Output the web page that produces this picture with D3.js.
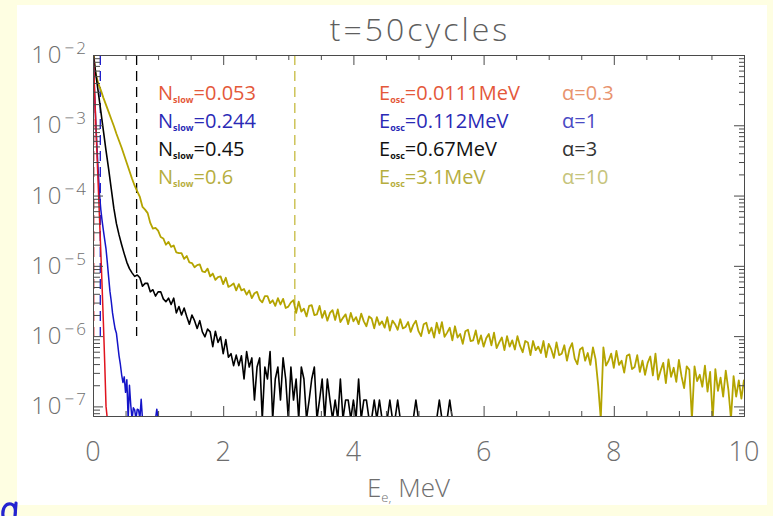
<!DOCTYPE html>
<html>
<head>
<meta charset="utf-8">
<script src="https://cdn.jsdelivr.net/npm/d3@7"></script>
<style>
  html, body { margin: 0; padding: 0; background: #fefee2; }
  svg { display: block; }
</style>
</head>
<body>
<svg id="chart" width="773" height="516"></svg>
<script>
// Energy bin widths (MeV) of each spectrum
const redStep = 0.02, blueStep = 0.02, blackStep = 0.04, oliveStep = 0.04;

// log10 of the electron spectrum per bin; null marks an empty bin
const redLog = [-1.90,-2.40,-2.90,-3.38,-3.85,-4.32,-4.80,-5.30,-5.82,-6.38,-7.00,null,null];

const blueLog = [-1.95,-2.45,-2.90,-3.30,-3.65,-3.98,-4.20,-4.36,-4.50,-4.63,
  -4.76,-4.95,-5.16,-5.36,-5.50,-5.67,-5.79,-5.90,-5.96,-6.12,
  -6.28,-6.40,-6.55,-6.66,-6.58,-6.80,-6.62,null,-6.70,-6.98,
  null,-7.02,-7.05,null,-7.04,-7.05,null,-6.90,null,null,
  null,null,null,null,null,null,null,null,null,-7.04,null];

const blackLog = [-1.95,-2.25,-2.52,-2.80,-3.08,-3.36,-3.62,-3.90,-4.18,-4.40,
  -4.56,-4.70,-4.83,-4.95,-5.04,-5.10,-5.15,-5.13,-5.17,-5.29,
  -5.25,-5.25,-5.37,-5.34,-5.43,-5.37,-5.37,-5.47,-5.51,-5.46,
  -5.55,-5.46,-5.67,-5.58,-5.70,-5.60,-5.72,-5.83,-5.70,-5.78,
  -5.89,-5.78,-5.94,-6.01,-5.90,-5.94,-6.15,-5.93,-6.09,-6.01,
  -6.25,-6.05,-6.30,-6.25,-6.42,-6.27,-6.42,-6.28,-6.61,-6.22,
  -6.44,-6.31,-6.91,-6.44,-6.31,null,-6.44,-6.61,-6.22,null,
  -6.61,-6.44,-6.91,-6.31,-6.61,null,-6.44,-6.91,-6.61,null,
  -6.44,-6.61,null,-6.91,-6.61,-6.44,null,-6.91,-6.61,null,
  -6.61,-6.91,null,-6.91,null,-6.61,null,-6.91,-6.91,null,
  -6.91,null,-6.61,null,-6.91,-6.91,null,null,-6.91,null,
  -6.91,null,null,null,-6.91,null,null,-6.91,null,null,
  null,null,null,null,-6.91,null,null,null,null,null,
  null,null,null,-6.91,null,null,null,-6.91,null,null,null];

const oliveLog = [-1.92,-2.26,-2.40,-2.50,-2.61,-2.71,-2.81,-2.91,-3.01,-3.12,
  -3.22,-3.32,-3.43,-3.54,-3.65,-3.76,-3.86,-3.94,-4.02,-4.16,
  -4.20,-4.25,-4.39,-4.47,-4.46,-4.50,-4.59,-4.61,-4.70,-4.66,
  -4.73,-4.71,-4.81,-4.82,-4.82,-4.90,-4.86,-4.95,-4.96,-5.02,
  -4.99,-4.98,-5.08,-5.09,-5.04,-5.15,-5.11,-5.20,-5.16,-5.15,
  -5.26,-5.17,-5.30,-5.28,-5.25,-5.35,-5.26,-5.35,-5.33,-5.41,
  -5.35,-5.46,-5.39,-5.37,-5.48,-5.52,-5.43,-5.43,-5.53,-5.49,
  -5.57,-5.46,-5.55,-5.47,-5.60,-5.58,-5.52,-5.49,-5.67,-5.51,
  -5.65,-5.61,-5.72,-5.57,-5.56,-5.70,-5.69,-5.57,-5.74,-5.64,
  -5.78,-5.67,-5.63,-5.77,-5.62,-5.80,-5.74,-5.69,-5.83,-5.67,
  -5.79,-5.73,-5.83,-5.68,-5.79,-5.86,-5.72,-5.75,-5.89,-5.73,
  -5.84,-5.79,-5.88,-5.73,-5.92,-5.78,-5.83,-5.91,-5.76,-5.89,
  -5.87,-5.80,-5.94,-5.84,-5.78,-5.93,-6.00,-5.83,-5.81,-5.96,
  -5.88,-6.02,-5.81,-5.96,-5.80,-6.01,-5.95,-5.88,-6.06,-5.86,
  -6.02,-5.97,-6.11,-5.93,-5.91,-6.07,-6.06,-5.92,-6.11,-5.99,
  -6.15,-6.03,-5.97,-6.13,-5.95,-6.17,-6.09,-6.02,-6.20,-6.00,
  -6.15,-6.06,-6.19,-6.00,-6.14,-6.23,-6.07,-6.09,-6.27,-6.07,
  -6.20,-6.15,-6.24,-6.07,-6.30,-6.11,-6.19,-6.31,-6.09,-6.27,
  -6.25,-6.13,-6.35,-6.18,-6.10,-6.32,-6.40,-6.19,-6.16,-6.35,
  -6.24,-6.41,-6.16,-6.33,-6.70,null,-6.16,-6.42,-6.35,-6.25,
  -6.45,-6.21,-6.41,-6.35,-6.52,-6.28,-6.26,-6.47,-6.44,-6.27,
  -6.51,-6.35,-6.55,-6.38,-6.29,-6.56,-6.25,-6.62,-6.49,-6.38,
  -6.67,-6.33,-6.58,-6.45,-6.65,-6.34,-6.57,-6.74,-6.43,-6.48,
  null,-6.43,-6.64,-6.55,-6.72,-6.42,-6.79,-6.51,null,-6.47,
  -6.78,-6.59,-6.86,-6.49,-6.76,null,-6.57,-6.86,-6.63,-6.89,-6.62];

// Oscillation energies (MeV), slow-electron fractions and a0 values per run
const eOsc = [0.0111, 0.112, 0.67, 3.1];
const nSlow = ["0.053", "0.244", "0.45", "0.6"];
const aVals = ["0.3", "1", "3", "10"];

// Axis ticks
const xMajor = [0, 2, 4, 6, 8, 10];
const xMinor = [0.5, 1, 1.5, 2.5, 3, 3.5, 4.5, 5, 5.5, 6.5, 7, 7.5, 8.5, 9, 9.5];
const yExps = [-2, -3, -4, -5, -6, -7];

const lineColors = ["#e0141e", "#1414c8", "#000000", "#b4a400"];
const textColors = ["#e4583a", "#2a2ab6", "#111111", "#b6ae3e"];
const aColors = ["#e8936e", "#4a4ac4", "#333333", "#c6c47c"];

const runs = [
  { log: redLog, step: redStep, w: 1.5 },
  { log: blueLog, step: blueStep, w: 1.5 },
  { log: blackLog, step: blackStep, w: 1.6 },
  { log: oliveLog, step: oliveStep, w: 1.8 }
];

const pLeft = 93, pRight = 744, pTop = 55, pBottom = 416;

const svg = d3.select("#chart");

// slide panel
svg.append("rect").attr("x", 17).attr("y", 5).attr("width", 750).attr("height", 500)
  .attr("fill", "#ffffff");

// blue flourish of the slide decoration in the lower-left corner
svg.append("path")
  .attr("d", "M3,516 C2,508 6,503 11,504 C15,505 16,510 15,516 M16,503 L15,516")
  .attr("fill", "none").attr("stroke", "#2424d0").attr("stroke-width", 3.2)
  .attr("stroke-linecap", "round");

const x = d3.scaleLinear().domain([0, 10]).range([pLeft, pRight]);
const y = d3.scaleLog().domain([7.3e-8, 1e-2]).range([pBottom, pTop]);

svg.append("defs").append("clipPath").attr("id", "plotClip")
  .append("rect").attr("x", pLeft).attr("y", pTop)
  .attr("width", pRight - pLeft).attr("height", pBottom - pTop);

const plot = svg.append("g").attr("clip-path", "url(#plotClip)");

// Dashed markers at each oscillation energy, from 1e-2 down to 1e-6
eOsc.forEach((e, k) => {
  plot.append("line")
    .attr("x1", x(e)).attr("x2", x(e))
    .attr("y1", y(1e-2)).attr("y2", y(1e-6))
    .attr("stroke", lineColors[k]).attr("stroke-width", 1.3)
    .attr("stroke-dasharray", "10,6")
    .attr("opacity", k === 3 ? 0.75 : 1);
});

// Spectra
const line = d3.line()
  .x(d => x(d.e))
  .y(d => d.v == null ? pBottom + 3 : y(Math.pow(10, d.v)));

[3, 2, 1, 0].forEach(k => {
  const r = runs[k];
  const pts = r.log.map((v, i) => ({ e: i * r.step, v: v }));
  plot.append("path").datum(pts)
    .attr("d", line)
    .attr("fill", "none")
    .attr("stroke", lineColors[k])
    .attr("stroke-width", r.w)
    .attr("stroke-linejoin", "round");
});

// Axes: ticks point inward on all four sides
const axisColor = "#4a4a4a";
function styleAxis(g) {
  g.selectAll("path, line").attr("stroke", axisColor).attr("stroke-width", 1);
  g.selectAll("text").remove();
}
const yMinor = [];
for (let d = -8; d <= -3; d++) {
  for (let m = 2; m <= 9; m++) {
    const v = m * Math.pow(10, d);
    if (v > 7.3e-8 && v < 1e-2) yMinor.push(v);
  }
}
const yMajorVals = yExps.map(p => Math.pow(10, p));

const axes = [
  [d3.axisBottom(x).tickValues(xMajor).tickSize(-10), `translate(0,${pBottom})`],
  [d3.axisBottom(x).tickValues(xMinor).tickSize(-5), `translate(0,${pBottom})`],
  [d3.axisTop(x).tickValues(xMajor).tickSize(-10), `translate(0,${pTop})`],
  [d3.axisTop(x).tickValues(xMinor).tickSize(-5), `translate(0,${pTop})`],
  [d3.axisLeft(y).tickValues(yMajorVals).tickSize(-10), `translate(${pLeft},0)`],
  [d3.axisLeft(y).tickValues(yMinor).tickSize(-7), `translate(${pLeft},0)`],
  [d3.axisRight(y).tickValues(yMajorVals).tickSize(-10), `translate(${pRight},0)`],
  [d3.axisRight(y).tickValues(yMinor).tickSize(-5), `translate(${pRight},0)`]
];
axes.forEach(([ax, tr]) => {
  svg.append("g").attr("transform", tr).call(ax.tickSizeOuter(0)).call(styleAxis);
});

const thinFont = "'Open Sans', 'DejaVu Sans', sans-serif";
const tickGrey = "#6e6e6e";

// x tick labels
svg.append("g").selectAll("text").data(xMajor).join("text")
  .attr("x", d => x(d)).attr("y", 461)
  .attr("text-anchor", "middle")
  .attr("font-family", thinFont).attr("font-weight", 300).attr("font-size", 27)
  .attr("fill", tickGrey)
  .text(d => d);

// y tick labels 10^n
const yl = svg.append("g").selectAll("text").data(yExps).join("text")
  .attr("x", 88).attr("y", d => y(Math.pow(10, d)) + 8)
  .attr("text-anchor", "end")
  .attr("font-family", thinFont).attr("font-weight", 300).attr("fill", tickGrey);
yl.append("tspan").attr("font-size", 24).attr("letter-spacing", 3).text("10");
yl.append("tspan").attr("font-size", 17).attr("letter-spacing", 2).attr("dy", -9)
  .text(d => "\u2212" + Math.abs(d));

// title
svg.append("text").attr("x", 420).attr("y", 41)
  .attr("text-anchor", "middle")
  .attr("font-family", thinFont).attr("font-weight", 300).attr("font-size", 32)
  .attr("letter-spacing", 3)
  .attr("fill", "#5e5e5e")
  .text("t=50cycles");

// x axis title
const xt = svg.append("text").attr("x", 367).attr("y", 497)
  .attr("font-family", thinFont).attr("font-weight", 300)
  .attr("fill", tickGrey).attr("font-size", 26);
xt.append("tspan").text("E");
xt.append("tspan").attr("font-size", 13).attr("dy", 5).text("e,");
xt.append("tspan").attr("font-size", 26).attr("dy", -5).attr("dx", 7).text("MeV");

// Run annotations
const rowY = [100, 128, 156, 184];
nSlow.forEach((n, k) => {
  const t = svg.append("text").attr("x", 158).attr("y", rowY[k])
    .attr("font-family", thinFont).attr("font-size", 20).attr("fill", textColors[k]);
  t.append("tspan").text("N");
  t.append("tspan").attr("font-size", 9).attr("font-weight", "bold").attr("dy", 3).text("slow");
  t.append("tspan").attr("font-size", 20).attr("dy", -3).text("=" + n);

  const u = svg.append("text").attr("x", 379).attr("y", rowY[k])
    .attr("font-family", thinFont).attr("font-size", 20).attr("fill", textColors[k]);
  u.append("tspan").text("E");
  u.append("tspan").attr("font-size", 9).attr("font-weight", "bold").attr("dy", 3).text("osc");
  u.append("tspan").attr("font-size", 20).attr("dy", -3).text("=" + eOsc[k] + "MeV");

  svg.append("text").attr("x", 562).attr("y", rowY[k])
    .attr("font-family", thinFont).attr("font-size", 20).attr("fill", aColors[k])
    .text("\u03b1=" + aVals[k]);
});
</script>
</body>
</html>
